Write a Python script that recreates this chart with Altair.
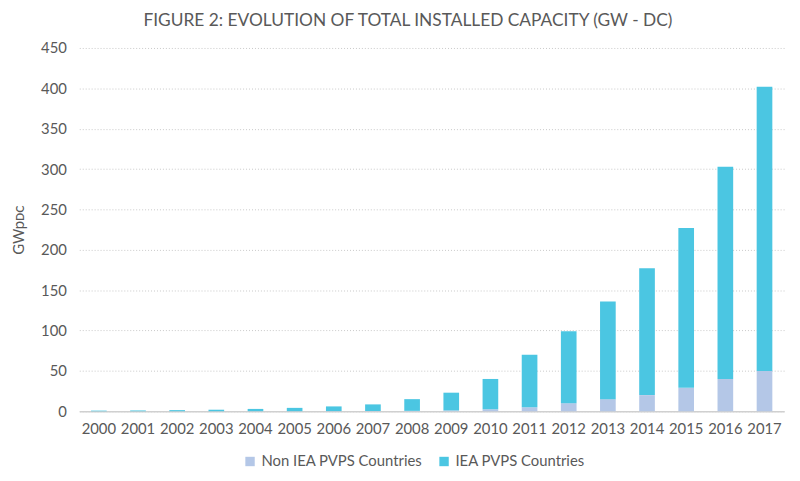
import altair as alt
import pandas as pd

years = [str(y) for y in range(2000, 2018)]
non_iea = [0.0, 0.0, 0.0, 0.0, 0.1, 0.1, 0.2, 0.3, 0.5, 1.0, 2.5, 5.0, 10.0, 15.0, 20.0, 29.0, 40.0, 50.0]
iea = [0.8, 1.0, 1.4, 1.9, 2.8, 4.1, 5.8, 8.2, 14.5, 22.0, 37.5, 65.0, 89.0, 121.0, 157.0, 198.0, 263.0, 352.0]
series = ["Non IEA PVPS Countries", "IEA PVPS Countries"]
colors = ["#B4C7E7", "#4BC6E2"]

rows = []
for i, y in enumerate(years):
    rows.append({"year": y, "series": series[0], "value": non_iea[i], "ord": 0})
    rows.append({"year": y, "series": series[1], "value": iea[i], "ord": 1})
df = pd.DataFrame(rows)

FONT = "Lato"
GREY = "#595959"

chart = alt.Chart(df).mark_bar().encode(
    x=alt.X("year:N", sort=years,
            scale=alt.Scale(paddingInner=0.6, paddingOuter=0.3),
            axis=alt.Axis(title=None, labelAngle=0, labelFontSize=15, labelColor=GREY,
                          labelFont=FONT, ticks=False, domainColor="#d0d0d0", domainWidth=1.5,
                          labelPadding=10, grid=False)),
    y=alt.Y("value:Q", stack="zero",
            scale=alt.Scale(domain=[0, 450], nice=False),
            axis=alt.Axis(title="GWpᴅᴄ", values=list(range(0, 451, 50)), labelFontSize=15,
                          labelColor=GREY, labelFont=FONT, ticks=False, domain=False,
                          labelPadding=13, gridColor="#c8c8c8", gridDash=[1, 2],
                          titleFont=FONT, titleFontSize=15, titleColor=GREY,
                          titleFontWeight="normal", titlePadding=14)),
    color=alt.Color("series:N", sort=series,
                    scale=alt.Scale(domain=series, range=colors),
                    legend=alt.Legend(title=None, orient="none", direction="horizontal",
                                      legendX=165, legendY=410, symbolType="square",
                                      symbolSize=90, symbolStrokeWidth=0,
                                      labelFont=FONT, labelFontSize=15, labelColor=GREY,
                                      labelLimit=400, columnPadding=14, symbolOffset=0)),
    order=alt.Order("ord:Q"),
).properties(
    width=712,
    height=367,
    padding={"left": 72, "top": 38, "right": 8, "bottom": 60},
    autosize=alt.AutoSizeParams(type="none"),
    title=alt.TitleParams("FIGURE 2: EVOLUTION OF TOTAL INSTALLED CAPACITY (GW - DC)",
                          font=FONT, fontSize=17.5, fontWeight="normal", color=GREY,
                          anchor="middle", dx=-24, offset=12),
).configure_view(stroke=None)

chart.save("out.html", embed_options={"renderer": "svg", "actions": False})
